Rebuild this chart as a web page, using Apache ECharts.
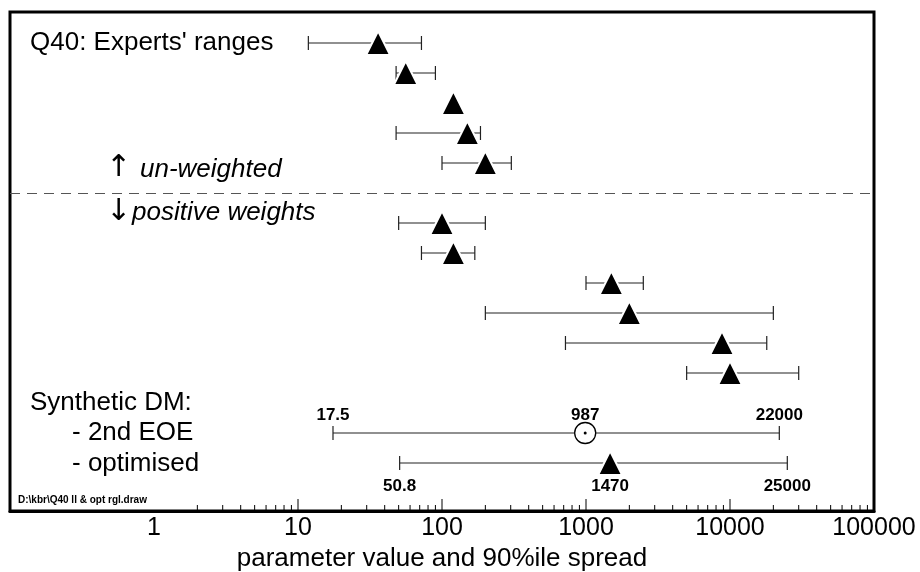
<!DOCTYPE html>
<html><head><meta charset="utf-8">
<script src="https://cdn.jsdelivr.net/npm/echarts@6/dist/echarts.min.js"></script>
<style>html,body{margin:0;padding:0;background:#fff}#c{width:920px;height:572px}</style>
</head><body><div id="c"></div>
<script>
// ---- data ----
// experts' rows, counted from the top of the frame
const expertRows = [0, 1, 2, 3, 4, 6, 7, 8, 9, 10, 11];
const expertLow  = [11.8, 48, 120, 48, 100, 50, 72, 1000, 200, 720, 5000];
const expertMid  = [36, 56, 120, 150, 200, 100, 120, 1500, 2000, 8800, 10000];
const expertHigh = [72, 90, 120, 185, 303, 200, 169, 2500, 20000, 18000, 30000];
// synthetic decision makers
const dmNames = ['- 2nd EOE', '- optimised'];
const dmRows  = [13, 14];
const dmLow   = [17.5, 50.8];
const dmMid   = [987, 1470];
const dmHigh  = [22000, 25000];
const dividerRow = 5;
const tickLabels = ['1', '10', '100', '1000', '10000', '100000'];
const majorTicks = [10, 100, 1000, 10000];
const minorTicks = [];
for (let k = 0; k < 5; k++) for (let m = 2; m <= 9; m++) minorTicks.push(m * Math.pow(10, k));

const FONT = '"Liberation Sans", Arial, Helvetica, sans-serif';
const Y_MIN = -1.033, Y_MAX = 15.6;
const LINE = '#222';

function whisker(params, api) {
  const row = api.value(0), lo = api.value(1), hi = api.value(2);
  if (!(lo < hi)) return null;
  const p1 = api.coord([lo, row]), p2 = api.coord([hi, row]);
  const h = 7;
  const st = { stroke: LINE, lineWidth: 1.2 };
  return { type: 'group', children: [
    { type: 'line', shape: { x1: p1[0], y1: p1[1], x2: p2[0], y2: p2[1] }, style: st },
    { type: 'line', shape: { x1: p1[0], y1: p1[1] - h, x2: p1[0], y2: p1[1] + h }, style: st },
    { type: 'line', shape: { x1: p2[0], y1: p2[1] - h, x2: p2[0], y2: p2[1] + h }, style: st }
  ]};
}

function dmLabels(params, api) {
  const row = api.value(0);
  const vals = [api.value(1), api.value(2), api.value(3)];
  const above = params.dataIndex === 0;
  const children = vals.map(v => {
    const p = api.coord([v, row]);
    return { type: 'text', style: {
      x: p[0], y: above ? p[1] - 9 : p[1] + 15,
      text: String(v), font: 'bold 17px ' + FONT, fill: '#000',
      align: 'center', verticalAlign: above ? 'bottom' : 'top'
    }};
  });
  return { type: 'group', children };
}

function tickItem(len) {
  return function (params, api) {
    const p = api.coord([api.value(0), Y_MAX]);
    return { type: 'line', shape: { x1: p[0], y1: p[1] - 1, x2: p[0], y2: p[1] - len },
      style: { stroke: '#000', lineWidth: 1 } };
  };
}

const txt = (text, x, y, extra) => ({ type: 'text', silent: true, style: Object.assign({
  text, x, y, font: '26px ' + FONT, fill: '#000', verticalAlign: 'middle' }, extra || {}) });
const ARROW = '30px "DejaVu Sans", sans-serif';

const chart = echarts.init(document.getElementById('c'), null, { renderer: 'canvas' });
chart.setOption({
  animation: false,
  backgroundColor: '#fff',
  grid: { left: 10, right: 46, top: 12, bottom: 61, show: true, borderColor: '#000',
          borderWidth: 3, backgroundColor: 'transparent', outerBoundsMode: 'none' },
  xAxis: {
    type: 'log', logBase: 10, min: 0.1, max: 100000,
    axisLine: { show: true, onZero: false, lineStyle: { color: '#000', width: 3 } },
    axisTick: { show: false }, splitLine: { show: false },
    axisLabel: { fontSize: 25, fontFamily: FONT, color: '#000', margin: 5,
      formatter: v => { const i = Math.round(Math.log10(v)); return i >= 0 ? tickLabels[i] : ''; } },
    name: 'parameter value and 90%ile spread', nameLocation: 'middle', nameGap: 35,
    nameTextStyle: { fontSize: 26, fontFamily: FONT, color: '#000' }
  },
  yAxis: { type: 'value', inverse: true, min: Y_MIN, max: Y_MAX, show: false },
  graphic: [
    txt("Q40: Experts' ranges", 30, 43),
    txt('\u2191', 106, 168, { font: ARROW }),
    txt('un-weighted', 140, 170, { font: 'italic 26px ' + FONT }),
    txt('\u2193', 106, 212, { font: ARROW }),
    txt('positive weights', 132, 213, { font: 'italic 26px ' + FONT }),
    txt('Synthetic DM:', 30, 403),
    txt(dmNames[0], 72, 433),
    txt(dmNames[1], 72, 464),
    txt('D:\\kbr\\Q40 ll & opt rgl.draw', 18, 500, { font: 'bold 10px ' + FONT })
  ],
  series: [
    { type: 'custom', silent: true, renderItem: tickItem(6), encode: { x: 0 },
      data: minorTicks.map(v => [v]) },
    { type: 'custom', silent: true, renderItem: tickItem(12), encode: { x: 0 },
      data: majorTicks.map(v => [v]) },
    { type: 'custom', silent: true, renderItem: whisker, encode: { x: [1, 2], y: 0 },
      data: expertRows.map((r, i) => [r, expertLow[i], expertHigh[i]])
        .concat(dmRows.map((r, i) => [r, dmLow[i], dmHigh[i]])) },
    { type: 'custom', silent: true, renderItem: dmLabels, encode: { x: [1, 2, 3], y: 0 },
      data: dmRows.map((r, i) => [r, dmLow[i], dmMid[i], dmHigh[i]]) },
    { type: 'scatter', silent: true, symbol: 'triangle', symbolSize: [24, 24], z: 5,
      itemStyle: { color: '#000', borderColor: '#fff', borderWidth: 2, opacity: 1 },
      data: expertRows.map((r, i) => [expertMid[i], r]).concat([[dmMid[1], dmRows[1]]]),
      markLine: { silent: true, symbol: ['none', 'none'], label: { show: false },
        lineStyle: { type: [10, 7], color: '#555', width: 1 },
        data: [{ yAxis: dividerRow }] } },
    { type: 'scatter', silent: true, symbol: 'circle', symbolSize: 21, z: 5,
      itemStyle: { color: '#fff', borderColor: '#000', borderWidth: 1.3, opacity: 1 },
      data: [[dmMid[0], dmRows[0]]] },
    { type: 'scatter', silent: true, symbol: 'circle', symbolSize: 3, z: 6,
      itemStyle: { color: '#000', opacity: 1 }, data: [[dmMid[0], dmRows[0]]] }
  ]
});
</script></body></html>
